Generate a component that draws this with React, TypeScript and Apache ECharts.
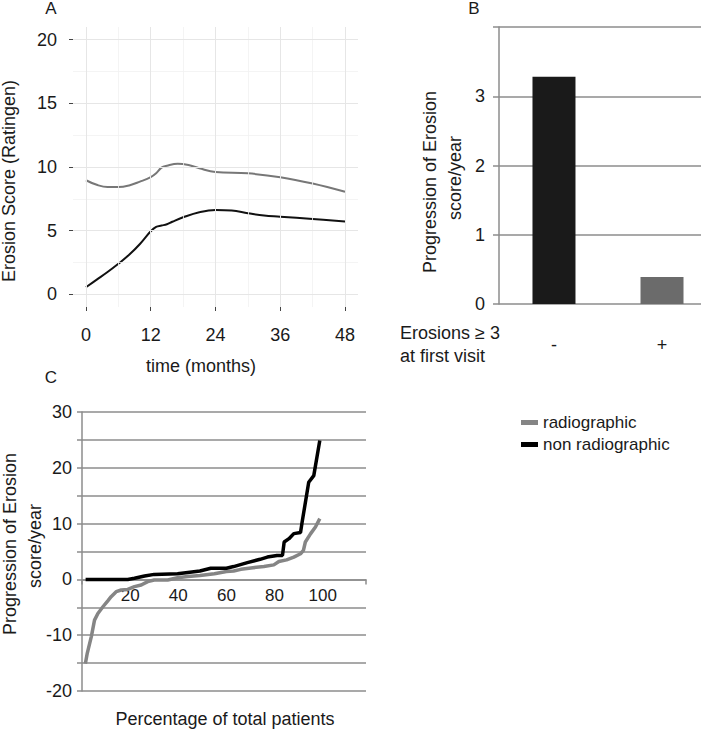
import React, { useEffect, useRef } from 'react';
import * as echarts from 'echarts';

const FONT = '"Liberation Sans", Arial, Helvetica, sans-serif';
const TXT = '#1a1a1a';

// ---------- Panel A: erosion score over time ----------
const monthsRadioA = [0, 2, 4, 6, 8, 10, 12, 13, 14, 15, 17, 19, 21, 24, 30, 36, 42, 48];
const scoreRadioA = [8.96, 8.6, 8.42, 8.42, 8.55, 8.85, 9.2, 9.5, 9.95, 10.1, 10.25, 10.15, 9.9, 9.6, 9.5, 9.2, 8.7, 8.05];
const monthsNonRadioA = [0, 2, 4, 6, 8, 10, 12, 13, 14, 15, 16, 18, 21, 24, 27, 30, 33, 36, 42, 48];
const scoreNonRadioA = [0.55, 1.15, 1.75, 2.4, 3.1, 3.95, 4.95, 5.3, 5.4, 5.5, 5.7, 6.05, 6.45, 6.63, 6.58, 6.37, 6.18, 6.1, 5.92, 5.71];
const xTicksA = [0, 12, 24, 36, 48];
const xMinorA = [6, 18, 30, 42];
const yTicksA = [0, 5, 10, 15, 20];
const yMinorA = [2.5, 7.5, 12.5, 17.5];

// ---------- Panel B: progression by erosions at first visit ----------
const groupsB = ['-', '+'];
const progressionB = [3.28, 0.39];
const barColorsB = ['#1a1a1a', '#6b6b6b'];

// ---------- Panel C: cumulative distribution ----------
const pctRadioC = [1.4, 2.2, 3.9, 5.2, 6.6, 8.7, 10.8, 12.1, 14.2, 16.3, 19, 21.8, 24.6, 27.3, 30, 35.6, 39.7, 44, 49, 55, 60, 63, 66, 71, 75.6, 79.7, 81.8, 85, 88, 90.8, 92, 92.8, 95, 97, 98.8];
const progRadioC = [-15.1, -13.2, -10.2, -7.3, -6.1, -4.9, -3.8, -3.1, -2.2, -1.9, -1.8, -1.3, -1.0, -0.4, -0.1, -0.1, 0.3, 0.5, 0.7, 1.0, 1.4, 1.5, 1.8, 2.1, 2.3, 2.6, 3.2, 3.5, 4.0, 4.6, 5.2, 6.7, 8.2, 9.4, 10.9];
const pctNonRadioC = [1.5, 19, 21.8, 26, 30, 39.7, 44, 49, 53.5, 60, 63, 68.7, 74, 77, 81, 83.3, 84, 86, 88, 90.8, 91.4, 94.2, 96.3, 98.8];
const progNonRadioC = [0, 0, 0.2, 0.6, 0.9, 1.0, 1.25, 1.5, 2.0, 2.0, 2.3, 3.0, 3.6, 4.0, 4.3, 4.3, 6.7, 7.3, 8.2, 8.4, 10.1, 17.4, 18.6, 24.9];
const xLabelsC = [20, 40, 60, 80, 100];

const zip = (xs: number[], ys: number[]) => xs.map((x, i) => [x, ys[i]]);

const txt = (text: string, x: number, y: number, opts: any = {}) => ({
  type: 'text',
  x,
  y,
  rotation: opts.rotation || 0,
  silent: true,
  style: {
    text,
    x: 0,
    y: 0,
    align: opts.align || 'center',
    verticalAlign: 'middle',
    fontSize: opts.fontSize || 18,
    fontFamily: FONT,
    fill: TXT,
  },
});

export default function App() {
  const ref = useRef<HTMLDivElement>(null);

  useEffect(() => {
    if (!ref.current) return;
    const chart = echarts.init(ref.current, undefined, { renderer: 'svg' });
    const gridC = '#8c8c8c';

    // panel C geometry: y range -20..30 over 279 px, x axis sits at value 0
    const cTop = 412;
    const cHeight = 279;
    const cMin = -20;
    const cMax = 30;
    const zeroOffsetC = -(cHeight * (0 - cMin)) / (cMax - cMin);

    const option: any = {
      animation: false,
      backgroundColor: '#ffffff',
      textStyle: { fontFamily: FONT },
      grid: [
        { left: 73, top: 27, width: 285, height: 280 },
        { left: 499, top: 27, width: 202, height: 277 },
        { left: 82, top: cTop, width: 284, height: cHeight },
      ],
      legend: {
        data: [
          { name: 'radiographic', icon: 'rect' },
          { name: 'non radiographic', icon: 'rect' },
        ],
        orient: 'vertical',
        left: 521,
        top: 414,
        itemWidth: 17,
        itemHeight: 5,
        itemGap: 5,
        padding: 0,
        selectedMode: false,
        textStyle: { fontSize: 17, color: TXT, fontFamily: FONT },
      },
      xAxis: [
        {
          gridIndex: 0,
          type: 'value',
          min: -2.4,
          max: 50.4,
          axisLine: { show: false, onZero: false },
          splitLine: { show: false },
          axisTick: { show: true, customValues: xTicksA, length: 4, lineStyle: { color: '#444' } },
          axisLabel: { customValues: xTicksA, fontSize: 18, color: TXT, margin: 19, fontFamily: FONT },
        },
        {
          gridIndex: 1,
          type: 'value',
          min: -0.509,
          max: 1.361,
          axisLine: { show: false, onZero: false },
          splitLine: { show: false },
          axisTick: { show: false },
          axisLabel: {
            customValues: [0, 1],
            formatter: (v: number) => groupsB[Math.round(v)] ?? '',
            fontSize: 18,
            color: TXT,
            margin: 32,
            fontFamily: FONT,
          },
        },
        {
          gridIndex: 2,
          type: 'value',
          min: 0,
          max: 118,
          position: 'bottom',
          offset: zeroOffsetC,
          axisLine: { show: true, onZero: false, lineStyle: { color: gridC, width: 1.5 } },
          splitLine: { show: false },
          axisTick: { show: true, customValues: [0, 118], length: 5, lineStyle: { color: gridC, width: 1.5 } },
          axisLabel: { customValues: xLabelsC, fontSize: 17, color: TXT, margin: 8, fontFamily: FONT },
        },
      ],
      yAxis: [
        {
          gridIndex: 0,
          type: 'value',
          min: -1,
          max: 21,
          axisLine: { show: false, onZero: false },
          splitLine: { show: false },
          axisTick: { show: true, customValues: yTicksA, length: 4, lineStyle: { color: '#444' } },
          axisLabel: { customValues: yTicksA, fontSize: 18, color: TXT, margin: 16, fontFamily: FONT },
        },
        {
          gridIndex: 1,
          type: 'value',
          min: 0,
          max: 4,
          interval: 1,
          axisLine: { show: true, onZero: false, lineStyle: { color: gridC, width: 1.5 } },
          axisTick: { show: true, length: 6, lineStyle: { color: gridC, width: 1.5 } },
          splitLine: { show: true, lineStyle: { color: gridC, width: 1.5 } },
          axisLabel: {
            formatter: (v: number) => (v === 4 ? '' : String(v)),
            fontSize: 18,
            color: TXT,
            margin: 14,
            fontFamily: FONT,
          },
        },
        {
          gridIndex: 2,
          type: 'value',
          min: cMin,
          max: cMax,
          interval: 5,
          axisLine: { show: true, onZero: false, lineStyle: { color: gridC, width: 1.5 } },
          axisTick: { show: true, length: 5, lineStyle: { color: gridC, width: 1.5 } },
          splitLine: { show: true, lineStyle: { color: gridC, width: 1.5 } },
          axisLabel: {
            formatter: (v: number) => (v % 10 === 0 ? String(v) : ''),
            fontSize: 18,
            color: TXT,
            margin: 10,
            fontFamily: FONT,
          },
        },
      ],
      series: [
        {
          name: 'gridA',
          type: 'line',
          xAxisIndex: 0,
          yAxisIndex: 0,
          data: [],
          z: 1,
          silent: true,
          markLine: {
            silent: true,
            symbol: ['none', 'none'],
            label: { show: false },
            animation: false,
            data: [
              ...yMinorA.map((v) => ({ yAxis: v, lineStyle: { color: '#f1f1f1', width: 0.8, type: 'solid' } })),
              ...xMinorA.map((v) => ({ xAxis: v, lineStyle: { color: '#f1f1f1', width: 0.8, type: 'solid' } })),
              ...yTicksA.map((v) => ({ yAxis: v, lineStyle: { color: '#e6e6e6', width: 1, type: 'solid' } })),
              ...xTicksA.map((v) => ({ xAxis: v, lineStyle: { color: '#e6e6e6', width: 1, type: 'solid' } })),
            ],
          },
        },
        {
          name: 'A radiographic',
          type: 'line',
          xAxisIndex: 0,
          yAxisIndex: 0,
          data: zip(monthsRadioA, scoreRadioA),
          smooth: 0.4,
          showSymbol: false,
          z: 3,
          itemStyle: { color: '#777777' },
          lineStyle: { color: '#777777', width: 2 },
        },
        {
          name: 'A non radiographic',
          type: 'line',
          xAxisIndex: 0,
          yAxisIndex: 0,
          data: zip(monthsNonRadioA, scoreNonRadioA),
          smooth: 0.4,
          showSymbol: false,
          z: 3,
          itemStyle: { color: '#111111' },
          lineStyle: { color: '#111111', width: 2 },
        },
        {
          name: 'B progression',
          type: 'bar',
          xAxisIndex: 1,
          yAxisIndex: 1,
          barWidth: 43,
          z: 3,
          data: progressionB.map((v, i) => ({ value: [i, v], itemStyle: { color: barColorsB[i] } })),
        },
        {
          name: 'radiographic',
          type: 'line',
          xAxisIndex: 2,
          yAxisIndex: 2,
          data: zip(pctRadioC, progRadioC),
          showSymbol: false,
          z: 3,
          itemStyle: { color: '#858585' },
          lineStyle: { color: '#858585', width: 3.5 },
        },
        {
          name: 'non radiographic',
          type: 'line',
          xAxisIndex: 2,
          yAxisIndex: 2,
          data: zip(pctNonRadioC, progNonRadioC),
          showSymbol: false,
          z: 4,
          itemStyle: { color: '#000000' },
          lineStyle: { color: '#000000', width: 3.5 },
        },
      ],
      graphic: [
        txt('A', 51, 8, { fontSize: 17 }),
        txt('B', 474, 8, { fontSize: 17 }),
        txt('C', 51, 377, { fontSize: 17 }),
        txt('Erosion Score (Ratingen)', 9, 181, { rotation: Math.PI / 2 }),
        txt('time (months)', 201, 366),
        txt('Progression of Erosion', 430, 182, { rotation: Math.PI / 2 }),
        txt('score/year', 455, 178, { rotation: Math.PI / 2 }),
        txt('Erosions \u2265 3', 400, 333, { align: 'left' }),
        txt('at first visit', 400, 356, { align: 'left' }),
        txt('Progression of Erosion', 10, 544, { rotation: Math.PI / 2 }),
        txt('score/year', 35, 546, { rotation: Math.PI / 2 }),
        txt('Percentage of total patients', 225, 719),
      ],
    };

    chart.setOption(option);
    return () => chart.dispose();
  }, []);

  return (
    <div
      ref={ref}
      style={{ position: 'fixed', left: 0, top: 0, width: 708, height: 730, background: '#fff' }}
    />
  );
}
